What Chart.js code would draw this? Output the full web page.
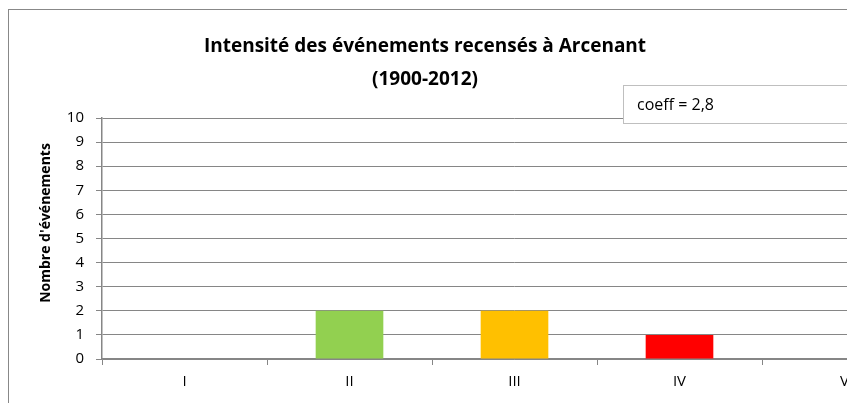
<!DOCTYPE html>
<html>
<head>
<meta charset="utf-8">
<script src="https://cdn.jsdelivr.net/npm/chart.js@4.4.1/dist/chart.umd.min.js"></script>
<style>
  html, body { margin: 0; padding: 0; background: #fff; overflow: hidden; }
  #wrap { width: 847px; height: 403px; overflow: hidden; }
</style>
</head>
<body>
<div id="wrap"><canvas id="intensite" width="940" height="403"></canvas></div>
<script>
// intensity classes and number of events per class
var categories = ['I', 'II', 'III', 'IV', 'V'];
var counts = [0, 2, 2, 1, 0];
var barColors = ['#4F81BD', '#92D050', '#FFC000', '#FF0000', '#C00000'];
var yTicks = [0, 1, 2, 3, 4, 5, 6, 7, 8, 9, 10];
var titleLines = ['Intensité des événements recensés à Arcenant', '(1900-2012)'];
var yTitle = "Nombre d'événements";
var coeffLabel = 'coeff = 2,8';

var FONT = '"Open Sans", "Noto Sans", sans-serif';
var GRAY = '#868686';

// frame, titles and coeff box drawn around the chart
var extras = {
  id: 'extras',
  beforeDraw: function(chart) {
    var c = chart.ctx;
    c.save();
    c.strokeStyle = '#888888';
    c.lineWidth = 1;
    c.strokeRect(8.5, 9.5, 1000, 500);
    c.restore();
  },
  afterDraw: function(chart) {
    var c = chart.ctx;
    c.save();
    c.fillStyle = '#000';
    c.textAlign = 'center';
    c.textBaseline = 'middle';
    c.font = 'bold 19px ' + FONT;
    c.fillText(titleLines[0], 425, 47);
    c.fillText(titleLines[1], 425, 80);

    c.save();
    c.translate(46, 223);
    c.rotate(-Math.PI / 2);
    c.font = 'bold 14px ' + FONT;
    c.fillText(yTitle, 0, 0);
    c.restore();

    c.fillStyle = '#fff';
    c.fillRect(623, 85, 300, 38);
    c.strokeStyle = '#bfbfbf';
    c.strokeRect(623.5, 85.5, 300, 38);
    c.fillStyle = '#000';
    c.textAlign = 'left';
    c.font = '16px ' + FONT;
    c.fillText(coeffLabel, 637, 105);
    c.restore();
  }
};

function printChartIntensite() {
  var ctx = document.getElementById('intensite').getContext('2d');
  new Chart(ctx, {
    type: 'bar',
    data: {
      labels: categories,
      datasets: [{
        label: 'Nombre',
        data: counts,
        backgroundColor: barColors,
        borderWidth: 0,
        categoryPercentage: 1,
        barPercentage: 0.41
      }]
    },
    options: {
      responsive: false,
      animation: false,
      layout: { padding: { top: 118, right: 13, bottom: 0, left: 0 } },
      plugins: {
        legend: { display: false },
        title: { display: false },
        tooltip: { enabled: false }
      },
      scales: {
        x: {
          offset: true,
          grid: { offset: true, drawOnChartArea: false, color: GRAY, tickLength: 6 },
          border: { color: GRAY, width: 1.5 },
          ticks: { color: '#000', font: { family: FONT, size: 15 }, padding: 8 },
          afterFit: function(scale) { scale.height = 44; }
        },
        y: {
          min: 0,
          max: 10,
          afterBuildTicks: function(scale) {
            scale.ticks = yTicks.map(function(v) { return { value: v }; });
          },
          grid: { color: GRAY, tickLength: 6 },
          border: { color: GRAY, width: 1.5 },
          ticks: { color: '#000', font: { family: FONT, size: 15 }, padding: 12 },
          afterFit: function(scale) { scale.width = 102; }
        }
      }
    },
    plugins: [extras]
  });
}

printChartIntensite();
</script>
</body>
</html>
